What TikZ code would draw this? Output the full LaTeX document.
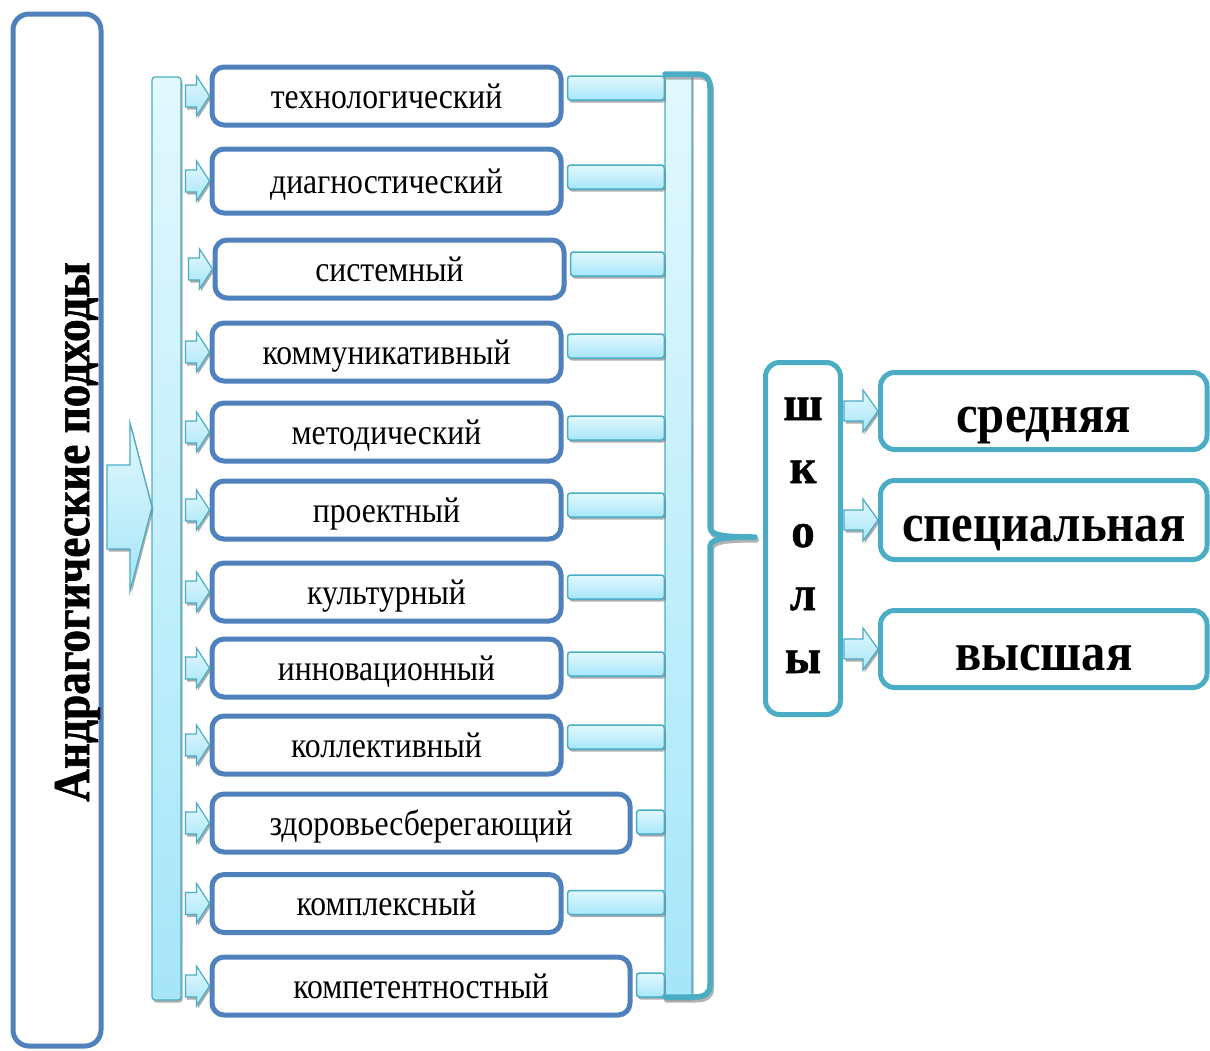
\documentclass[tikz,border=0pt]{standalone}
\usepackage{fontspec}
\setmainfont{Liberation Serif}[FakeStretch=0.88]
\newfontfamily\titlef{Liberation Serif Bold}[FakeStretch=0.88, FakeBold=1.2]
\newfontfamily\boldf{Liberation Serif Bold}[FakeStretch=0.9]
\newfontfamily\letterf{Liberation Serif Bold}[FakeStretch=0.95, FakeBold=1]
\usetikzlibrary{calc,shadows}
\definecolor{bline}{HTML}{4F81BD}
\definecolor{tline}{HTML}{4BACC6}
\definecolor{ltop}{HTML}{E2F8FE}
\definecolor{lbot}{HTML}{A6E6F8}
\definecolor{shad}{HTML}{7F7F7F}
\newcommand\blockarrow[6]{%
  \path[#1] (#2) -- +(-#6,-#5) -- +(-#6,-#4) -- +(-#3,-#4) -- +(-#3,#4) -- +(-#6,#4) -- +(-#6,#5) -- cycle;}
\newcommand\connbar[2]{%
  \path[conn] ($(b#1.east)+(4,#2-12)$) rectangle ($(rb.west |- b#1.east)+(0,#2+12)$);}
\tikzset{
  shadowed/.style={drop shadow={shadow xshift=1.5pt, shadow yshift=-2.5pt, fill=shad, opacity=0.65}},
  lightfill/.style={top color=ltop, bottom color=lbot},
  barbox/.style={draw=tline, line width=1.2pt, lightfill, rounded corners=3pt, shadowed, inner sep=0pt},
  conn/.style={draw=tline, line width=1.5pt, lightfill, rounded corners=3pt, shadowed},
  arr/.style={draw=tline, line width=1.2pt, lightfill, shadowed},
  apbox/.style={draw=bline, line width=5pt, rounded corners=12pt, fill=white, minimum height=58,
    text height=30pt, text depth=6pt, inner sep=0pt, font=\fontsize{36}{40}\selectfont},
  titlebox/.style={draw=bline, line width=5pt, rounded corners=16pt, inner sep=0pt},
  titletext/.style={font=\titlef\fontsize{51.5}{54}\selectfont, inner sep=0pt},
  schoolbox/.style={draw=tline, line width=5pt, rounded corners=14pt, fill=white, inner sep=0pt},
  letter/.style={font=\letterf\fontsize{49}{50}\selectfont, inner sep=0pt, anchor=base},
  kindbox/.style={draw=tline, line width=5pt, rounded corners=14pt, fill=white, minimum width=326.5,
    minimum height=77, text height=50pt, text depth=8pt, inner sep=0pt, font=\boldf\fontsize{54}{56}\selectfont},
}
\begin{document}
\begin{tikzpicture}[x=1pt,y=-1pt]
\useasboundingbox (0,0) rectangle (1210,1050);
\clip (0,0) rectangle (1210,1050);

% title
\node[titlebox, minimum width=88, minimum height=1032] (tb) at (57,530) {};
\node[titletext, rotate=90, anchor=base] (tt) at (89,532) {Андрагогические подходы};

% bars
\node[barbox, minimum width=29, minimum height=923] (lb) at (166.5,538.5) {};
\node[barbox, minimum width=27, minimum height=923, rounded corners=1pt] (rb) at (678.5,536.5) {};

% big arrow
\coordinate (bigtip) at (152,507);
\blockarrow{arr}{bigtip}{45}{42}{84}{22}

% approach boxes
\node[apbox, minimum width=349] (b1) at (386.5,96) {технологический};
\node[apbox, minimum width=349, minimum height=64] (b2) at (386.5,181) {диагностический};
\node[apbox, minimum width=349] (b3) at (389.5,269) {системный};
\node[apbox, minimum width=349] (b4) at (386.5,352) {коммуникативный};
\node[apbox, minimum width=349] (b5) at (386.5,432) {методический};
\node[apbox, minimum width=349] (b6) at (386.5,510) {проектный};
\node[apbox, minimum width=349] (b7) at (386.5,592) {культурный};
\node[apbox, minimum width=349] (b8) at (386.5,668) {инновационный};
\node[apbox, minimum width=349] (b9) at (386.5,745) {коллективный};
\node[apbox, minimum width=418] (b10) at (421,823) {здоровьесберегающий};
\node[apbox, minimum width=349] (b11) at (386.5,903.5) {комплексный};
\node[apbox, minimum width=418] (b12) at (421,986) {компетентностный};

% small arrows from left bar
\foreach \i in {1,...,12} {\blockarrow{arr}{b\i.west}{24}{11}{20}{13}}

% connectors to right bar
\connbar{1}{-8}
\connbar{2}{-4}
\connbar{3}{-5}
\connbar{4}{-6}
\connbar{5}{-4}
\connbar{6}{-5}
\connbar{7}{-5}
\connbar{8}{-4}
\connbar{9}{-8}
\connbar{10}{-1}
\connbar{11}{-1}
\connbar{12}{-1}

% brace
\draw[shad, opacity=0.6, line width=5pt, line cap=round, line join=round, shift={(1.5,3)}]
  (665,74) -- (696,74) .. controls (706,74) and (710,78) .. (710,88) -- (710,526)
  .. controls (710,534) and (716,537) .. (755,537)
  .. controls (716,537) and (710,540) .. (710,548) -- (710,985)
  .. controls (710,994) and (704,997) .. (694,997) -- (665,997);
\draw[tline, line width=5.5pt, line cap=round, line join=round]
  (665,74) -- (696,74) .. controls (706,74) and (710,78) .. (710,88) -- (710,526)
  .. controls (710,534) and (716,537) .. (755,537)
  .. controls (716,537) and (710,540) .. (710,548) -- (710,985)
  .. controls (710,994) and (704,997) .. (694,997) -- (665,997);

% schools
\node[schoolbox, minimum width=75, minimum height=352] (sb) at (803,538.5) {};
\node[letter] (l1) at ($(sb.center)+(0,-118.5)$) {ш};
\node[letter] (l2) at ($(sb.center)+(0,-55.5)$) {к};
\node[letter] (l3) at ($(sb.center)+(0,8.5)$) {о};
\node[letter] (l4) at ($(sb.center)+(0,71.5)$) {л};
\node[letter] (l5) at ($(sb.center)+(0,134.5)$) {ы};

\node[kindbox] (r1) at (1043.75,411) {средняя};
\node[kindbox, minimum height=79] (r2) at (1043.75,520) {специальная};
\node[kindbox] (r3) at (1043.75,649) {высшая};

\foreach \i in {1,2,3} {\blockarrow{arr}{r\i.west}{34}{10}{21}{15}}
\end{tikzpicture}
\end{document}
